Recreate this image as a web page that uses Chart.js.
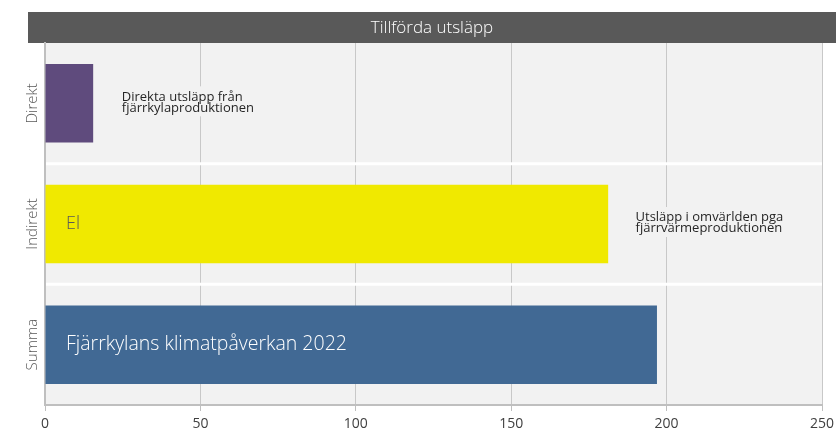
<!DOCTYPE html>
<html><head><meta charset="utf-8">
<script src="https://cdn.jsdelivr.net/npm/chart.js@4"></script>
<style>html,body{margin:0;padding:0;background:#fff}</style>
</head><body><canvas id="c" width="836" height="430" style="width:836px;height:430px;display:block"></canvas>
<script>
const categories = ['Direkt', 'Indirekt', 'Summa'];
const values = [15.5, 181.2, 196.9];
const barColors = ['#5f4b7d', '#f0e900', '#416994'];
const xTicks = [0, 50, 100, 150, 200, 250];
const headerTitle = 'Tillförda utsläpp';
const barLabels = ['', 'El', 'Fjärrkylans klimatpåverkan 2022'];
const barLabelColors = ['#ffffff', '#595959', '#ffffff'];
const noteLines = [['Direkta utsläpp från', 'fjärrkylaproduktionen'], ['Utsläpp i omvärlden pga', 'fjärrvärmeproduktionen'], []];
const noteAt = [24.7, 190, null];

const FONT = "'Open Sans', 'Noto Sans', sans-serif";

const decor = {
  id: 'decor',
  beforeDraw(chart) {
    const {ctx, chartArea: a} = chart;
    ctx.save();
    ctx.fillStyle = '#f2f2f2';
    ctx.fillRect(a.left, a.top, a.right - a.left, a.bottom - a.top);
    ctx.fillStyle = '#595959';
    ctx.fillRect(28, 12, chart.width - 28, a.top - 12);
    ctx.fillStyle = '#ffffff';
    ctx.font = '300 17px ' + FONT;
    ctx.textAlign = 'center';
    ctx.textBaseline = 'middle';
    ctx.fillText(headerTitle, (28 + chart.width) / 2, (12 + a.top) / 2 + 1);
    ctx.restore();
  },
  beforeDatasetsDraw(chart) {
    const {ctx, chartArea: a, scales: {y}} = chart;
    ctx.save();
    ctx.strokeStyle = '#ffffff';
    ctx.lineWidth = 3;
    for (let i = 0; i < categories.length - 1; i++) {
      const yy = (y.getPixelForValue(i) + y.getPixelForValue(i + 1)) / 2;
      ctx.beginPath();
      ctx.moveTo(a.left + 1, yy);
      ctx.lineTo(a.right, yy);
      ctx.stroke();
    }
    ctx.restore();
  },
  afterDatasetsDraw(chart) {
    const {ctx, scales: {x, y}} = chart;
    ctx.save();
    categories.forEach((c, i) => {
      const cy = y.getPixelForValue(i);
      if (barLabels[i]) {
        ctx.fillStyle = barLabelColors[i];
        ctx.font = (i === 2 ? '300 19.5px ' : '300 18px ') + FONT;
        ctx.textAlign = 'left';
        ctx.textBaseline = 'middle';
        ctx.fillText(barLabels[i], x.getPixelForValue(0) + 21, cy);
      }
      if (noteLines[i].length) {
        ctx.font = '13px ' + FONT;
        const lx = x.getPixelForValue(noteAt[i]);
        const lh = 11;
        const w = Math.max(...noteLines[i].map(t => ctx.measureText(t).width));
        const top = cy - lh - 2;
        ctx.fillStyle = '#f2f2f2';
        ctx.fillRect(lx - 2, top - 4, w + 4, lh * 2 + 8);
        ctx.fillStyle = '#262626';
        ctx.textAlign = 'left';
        ctx.textBaseline = 'middle';
        noteLines[i].forEach((t, k) => ctx.fillText(t, lx, cy - lh / 2 + k * lh - 1));
      }
    });
    ctx.restore();
  }
};

new Chart(document.getElementById('c'), {
  type: 'bar',
  data: {
    labels: categories,
    datasets: [{data: values, backgroundColor: barColors, borderWidth: 0, categoryPercentage: 1, barPercentage: 0.65}]
  },
  options: {
    indexAxis: 'y',
    responsive: false,
    animation: false,
    devicePixelRatio: 1,
    layout: {padding: {top: 43, right: 14, left: 0, bottom: 0}},
    plugins: {legend: {display: false}, tooltip: {enabled: false}},
    scales: {
      x: {
        min: 0, max: 250,
        afterBuildTicks: s => { s.ticks = xTicks.map(v => ({value: v})); },
        grid: {color: '#c8c8c8', lineWidth: 1, drawTicks: true, tickLength: 6, tickColor: '#bfbfbf'},
        border: {color: '#bfbfbf', width: 2},
        ticks: {color: '#404040', font: {family: FONT, size: 14}, padding: 5, maxRotation: 0},
        afterFit: s => { s.height = 25; s.paddingRight = 0; }
      },
      y: {
        grid: {display: false, drawTicks: false},
        border: {color: '#bfbfbf', width: 2},
        ticks: {minRotation: 90, maxRotation: 90, crossAlign: 'center', padding: -13, color: '#595959', font: {family: FONT, size: 15, weight: '300'}},
        afterFit: s => { s.width = 45; }
      }
    }
  },
  plugins: [decor]
});
</script>
</body></html>
